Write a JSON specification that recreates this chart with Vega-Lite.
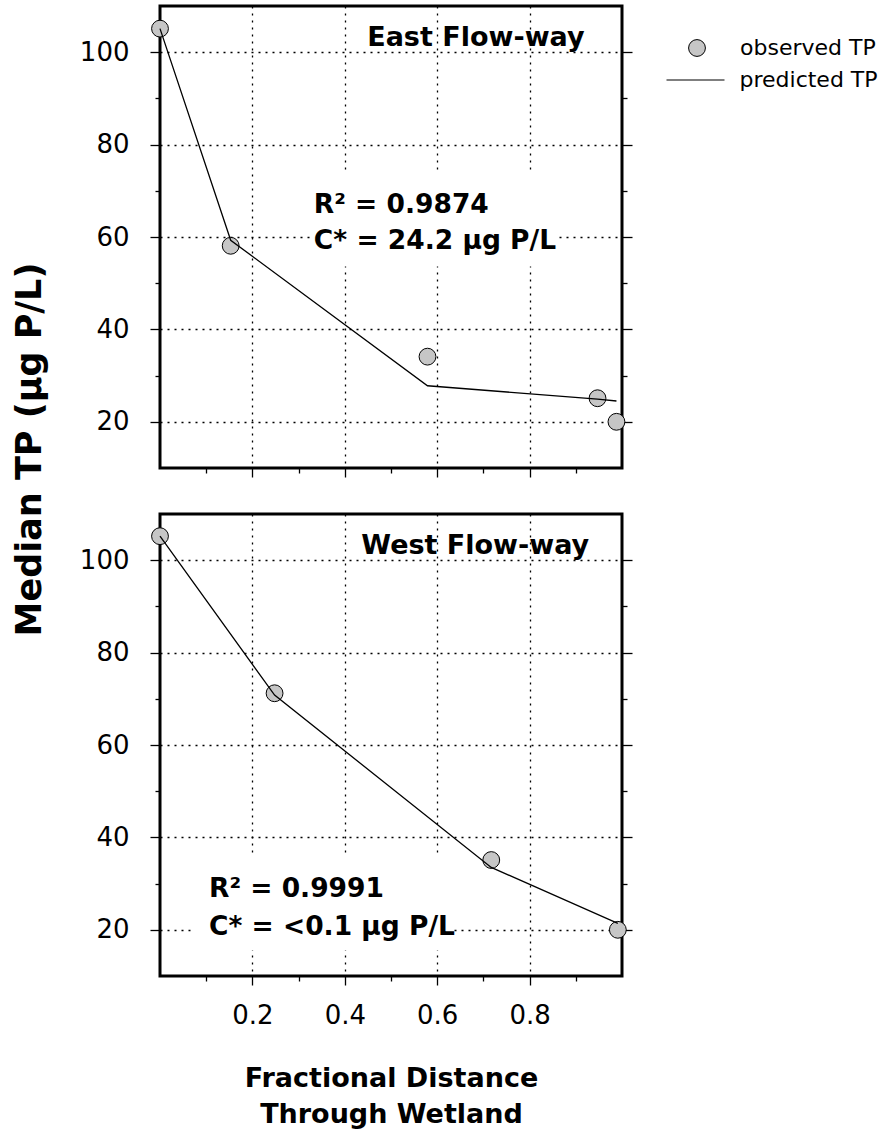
{
  "$schema": "https://vega.github.io/schema/vega-lite/v6.json",
  "padding": {"left": 10, "top": 4, "right": 5, "bottom": 5},
  "background": "white",
  "datasets": {
    "flow": [
      {"panel": "East", "distance": 0.0, "observed": 105.1, "predicted": 105.1},
      {"panel": "East", "distance": 0.153, "observed": 58.1, "predicted": 59.3},
      {"panel": "East", "distance": 0.579, "observed": 34.1, "predicted": 27.8},
      {"panel": "East", "distance": 0.947, "observed": 25.1, "predicted": 24.9},
      {"panel": "East", "distance": 0.988, "observed": 20.0, "predicted": 24.5},
      {"panel": "West", "distance": 0.0, "observed": 105.2, "predicted": 105.2},
      {"panel": "West", "distance": 0.248, "observed": 71.2, "predicted": 70.8},
      {"panel": "West", "distance": 0.717, "observed": 35.1, "predicted": 33.5},
      {"panel": "West", "distance": 0.991, "observed": 20.0, "predicted": 21.4}
    ]
  },
  "bounds": "flush",
  "spacing": 46,
  "vconcat": [
    {
      "width": 462,
      "height": 462,
      "layer": [
        {
          "data": {"values": [{}]},
          "mark": {"type": "rect", "fill": "white"},
          "encoding": {"x": {"datum": 0.33, "type": "quantitative", "axis": null}, "x2": {"datum": 0.857}, "y": {"datum": 53.6, "type": "quantitative", "axis": null}, "y2": {"datum": 73.8}}
        },
        {
          "data": {"name": "flow"},
          "transform": [{"filter": "datum.panel === 'East'"}],
          "mark": {"type": "point", "filled": true, "size": 283, "stroke": "black", "strokeWidth": 1, "opacity": 1},
          "encoding": {
            "x": {"field": "distance", "type": "quantitative", "scale": {"domain": [0, 1], "nice": false, "zero": false},
              "axis": {"orient": "bottom", "values": [0.1, 0.2, 0.3, 0.4, 0.5, 0.6, 0.7, 0.8, 0.9], "labels": false, "title": null, "grid": true, "domain": false,
                "gridOpacity": {"condition": {"test": "round(datum.value*10) % 2 === 0", "value": 1}, "value": 0},
                "tickSize": {"condition": {"test": "round(datum.value*10) % 2 === 0", "value": 9}, "value": 5}}},
            "y": {"field": "observed", "type": "quantitative", "scale": {"domain": [10, 110], "nice": false, "zero": false},
              "axis": {"orient": "left", "values": [20, 30, 40, 50, 60, 70, 80, 90, 100], "labelExpr": "datum.value % 20 === 0 ? datum.label : ''", "grid": true, "domain": false,
                "gridOpacity": {"condition": {"test": "datum.value % 20 === 0", "value": 1}, "value": 0},
                "tickSize": {"condition": {"test": "datum.value % 20 === 0", "value": 10}, "value": 5},
                "labelPadding": 21,
                "title": "Median TP (µg P/L)", "titleX": -131, "titleY": 443, "titleAngle": -90, "titleAlign": "center", "titleBaseline": "middle", "titleFontSize": 35}},
            "fill": {"datum": "observed TP", "scale": {"domain": ["observed TP"], "range": ["#c6c6c6"]},
              "legend": {"title": null, "orient": "none", "legendX": 526, "legendY": 31, "symbolType": "circle", "symbolSize": 283, "symbolStrokeColor": "black", "symbolStrokeWidth": 1, "symbolOpacity": 1,
                "labelFont": "DejaVu Sans", "labelFontSize": 22, "labelColor": "black", "labelOffset": 32, "padding": 0}}
          }
        },
        {
          "data": {"name": "flow"},
          "transform": [{"filter": "datum.panel === 'East'"}],
          "mark": {"type": "line", "strokeWidth": 1.3},
          "encoding": {
            "x": {"field": "distance", "type": "quantitative", "axis": null},
            "y": {"field": "predicted", "type": "quantitative",
              "axis": {"orient": "right", "values": [20, 30, 40, 50, 60, 70, 80, 90, 100], "labels": false, "grid": false, "domain": false, "title": null,
                "tickSize": {"condition": {"test": "datum.value % 20 === 0", "value": 10}, "value": 5}}},
            "stroke": {"datum": "predicted TP", "scale": {"domain": ["predicted TP"], "range": ["#000000"]},
              "legend": {"title": null, "orient": "none", "legendX": 505.5, "legendY": 44, "symbolType": "stroke", "symbolSize": 3364, "symbolStrokeWidth": 1.2, "symbolStrokeColor": "black", "symbolOpacity": 1,
                "labelFont": "DejaVu Sans", "labelFontSize": 22, "labelColor": "black", "labelOffset": 14, "padding": 0}}
          }
        },
        {
          "data": {"values": [{}]},
          "mark": {"type": "text", "text": "East Flow-way", "font": "DejaVu Sans", "fontWeight": "bold", "fontSize": 27, "align": "right", "baseline": "alphabetic", "color": "black"},
          "encoding": {"x": {"datum": 0.919, "type": "quantitative", "axis": null}, "y": {"datum": 101.4, "type": "quantitative", "axis": null}}
        },
        {
          "data": {"values": [{}]},
          "mark": {"type": "text", "text": ["R² = 0.9874", "C* = 24.2 µg P/L"], "lineHeight": 36.5, "font": "DejaVu Sans", "fontWeight": "bold", "fontSize": 26.5, "align": "left", "baseline": "alphabetic", "color": "black"},
          "encoding": {"x": {"datum": 0.333, "type": "quantitative", "axis": null}, "y": {"datum": 65.2, "type": "quantitative", "axis": null}}
        }
      ],
      "resolve": {"axis": {"x": "independent", "y": "independent"}}
    },
    {
      "width": 462,
      "height": 462,
      "layer": [
        {
          "data": {"values": [{}]},
          "mark": {"type": "rect", "fill": "white"},
          "encoding": {"x": {"datum": 0.067, "type": "quantitative", "axis": null}, "x2": {"datum": 0.63}, "y": {"datum": 15.6, "type": "quantitative", "axis": null}, "y2": {"datum": 36.2}}
        },
        {
          "data": {"name": "flow"},
          "transform": [{"filter": "datum.panel === 'West'"}],
          "mark": {"type": "point", "filled": true, "size": 283, "stroke": "black", "strokeWidth": 1, "opacity": 1},
          "encoding": {
            "x": {"field": "distance", "type": "quantitative", "scale": {"domain": [0, 1], "nice": false, "zero": false},
              "axis": {"orient": "bottom", "values": [0.1, 0.2, 0.3, 0.4, 0.5, 0.6, 0.7, 0.8, 0.9], "labelExpr": "round(datum.value*10) % 2 === 0 ? datum.label : ''", "grid": true, "domain": false,
                "gridOpacity": {"condition": {"test": "round(datum.value*10) % 2 === 0", "value": 1}, "value": 0},
                "tickSize": {"condition": {"test": "round(datum.value*10) % 2 === 0", "value": 9}, "value": 5},
                "labelPadding": 17,
                "title": ["Fractional Distance", "Through Wetland"], "titleFontSize": 27, "titleLineHeight": 36, "titlePadding": 37}},
            "y": {"field": "observed", "type": "quantitative", "scale": {"domain": [10, 110], "nice": false, "zero": false},
              "axis": {"orient": "left", "values": [20, 30, 40, 50, 60, 70, 80, 90, 100], "labelExpr": "datum.value % 20 === 0 ? datum.label : ''", "grid": true, "domain": false,
                "gridOpacity": {"condition": {"test": "datum.value % 20 === 0", "value": 1}, "value": 0},
                "tickSize": {"condition": {"test": "datum.value % 20 === 0", "value": 10}, "value": 5},
                "labelPadding": 21, "title": null}},
            "fill": {"datum": "observed TP"}
          }
        },
        {
          "data": {"name": "flow"},
          "transform": [{"filter": "datum.panel === 'West'"}],
          "mark": {"type": "line", "strokeWidth": 1.3},
          "encoding": {
            "x": {"field": "distance", "type": "quantitative", "axis": null},
            "y": {"field": "predicted", "type": "quantitative",
              "axis": {"orient": "right", "values": [20, 30, 40, 50, 60, 70, 80, 90, 100], "labels": false, "grid": false, "domain": false, "title": null,
                "tickSize": {"condition": {"test": "datum.value % 20 === 0", "value": 10}, "value": 5}}},
            "stroke": {"datum": "predicted TP"}
          }
        },
        {
          "data": {"values": [{}]},
          "mark": {"type": "text", "text": "West Flow-way", "font": "DejaVu Sans", "fontWeight": "bold", "fontSize": 27, "align": "right", "baseline": "alphabetic", "color": "black"},
          "encoding": {"x": {"datum": 0.929, "type": "quantitative", "axis": null}, "y": {"datum": 101.4, "type": "quantitative", "axis": null}}
        },
        {
          "data": {"values": [{}]},
          "mark": {"type": "text", "text": ["R² = 0.9991", "C* = <0.1 µg P/L"], "lineHeight": 38, "font": "DejaVu Sans", "fontWeight": "bold", "fontSize": 26.5, "align": "left", "baseline": "alphabetic", "color": "black"},
          "encoding": {"x": {"datum": 0.106, "type": "quantitative", "axis": null}, "y": {"datum": 27.2, "type": "quantitative", "axis": null}}
        }
      ],
      "resolve": {"axis": {"x": "independent", "y": "independent"}}
    }
  ],
  "config": {
    "view": {"stroke": "black", "strokeWidth": 3},
    "axis": {"labelFont": "DejaVu Sans", "labelFontSize": 26, "labelColor": "black", "tickColor": "black", "tickWidth": 1.3,
      "gridColor": "black", "gridDash": [2, 5], "gridWidth": 1.3,
      "titleFont": "DejaVu Sans", "titleFontWeight": "bold", "titleColor": "black", "labelOverlap": false, "labelFlush": false},
    "text": {"font": "DejaVu Sans"}
  }
}
